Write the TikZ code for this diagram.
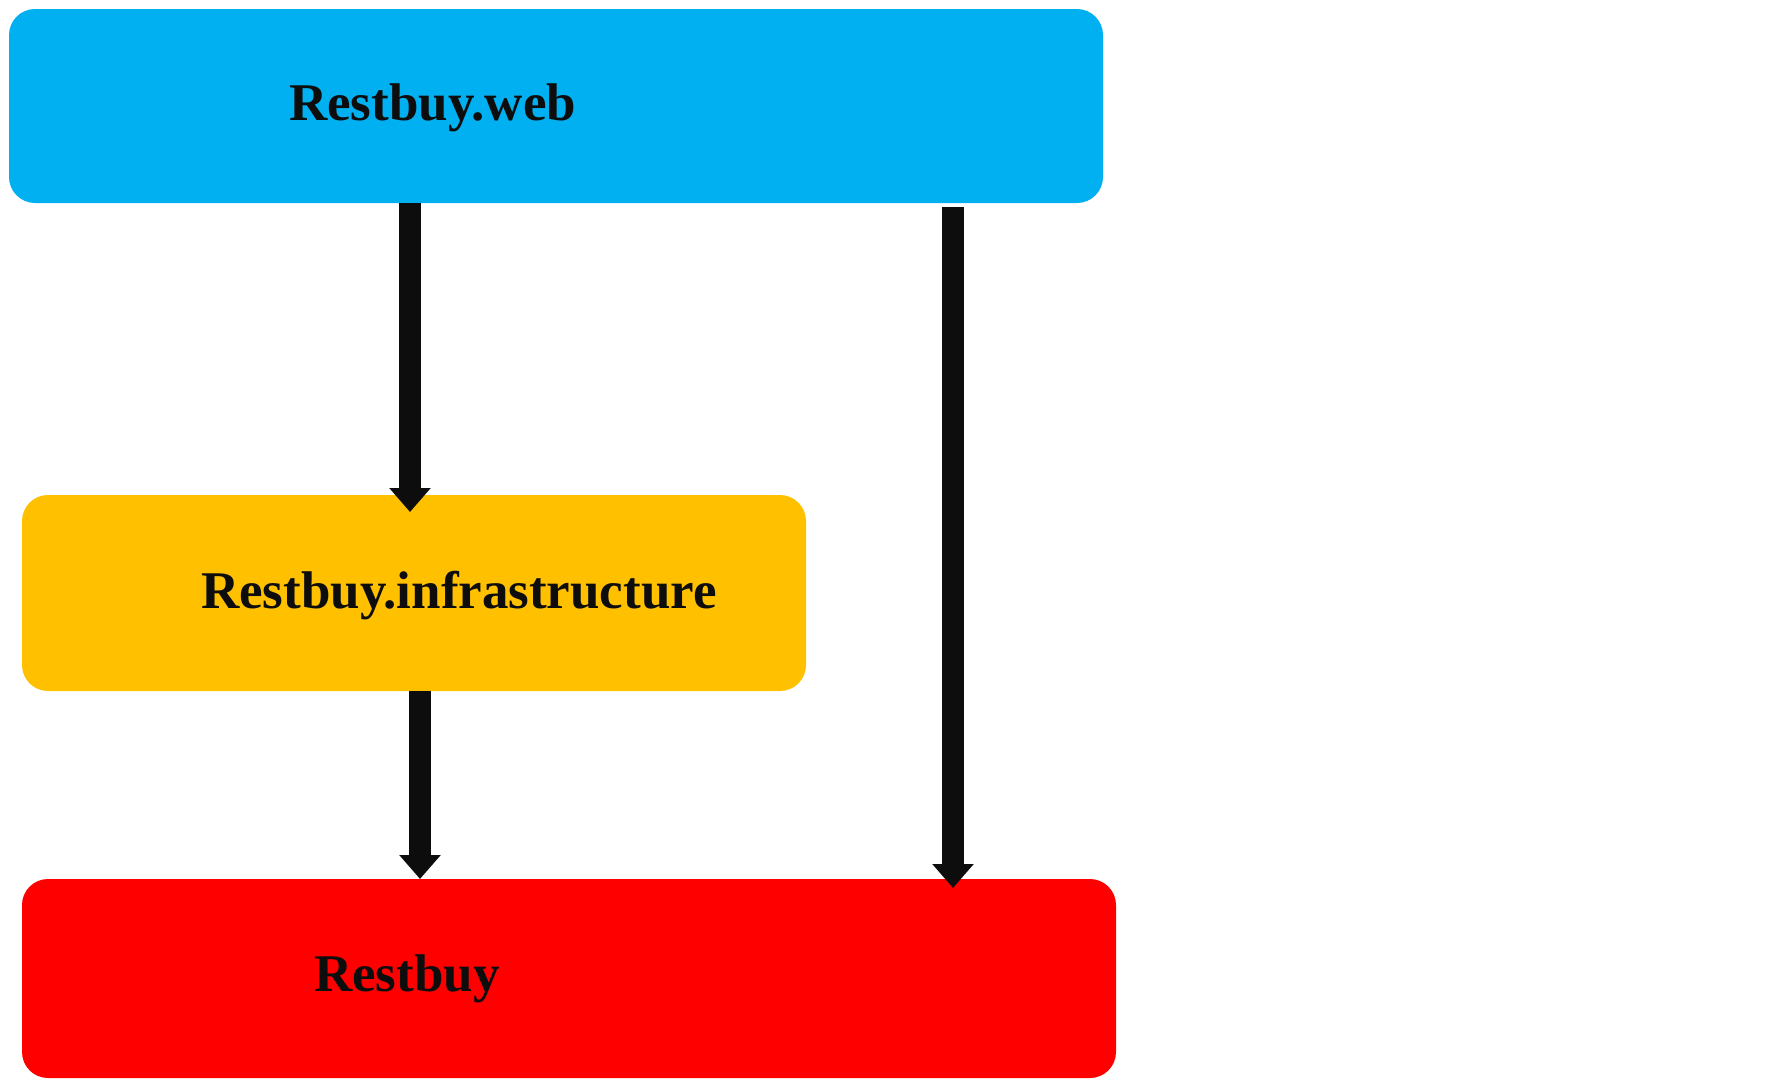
\documentclass[tikz,border=0pt]{standalone}
\usepackage{fontspec}
\setmainfont{Liberation Serif}
\usetikzlibrary{arrows.meta,calc}
\definecolor{webblue}{HTML}{00B0F0}
\definecolor{infrayellow}{HTML}{FFC000}
\definecolor{corered}{HTML}{FF0000}
\definecolor{arrowblack}{HTML}{0D0D0D}
\tikzset{
  layerbox/.style={rectangle, rounded corners=26pt, draw=none, inner sep=0pt, outer sep=0pt},
  layertext/.style={anchor=base west, inner sep=0pt, outer sep=0pt, text=arrowblack,
    font=\fontsize{53}{60}\selectfont\bfseries},
  deparrow/.style={draw=arrowblack, line width=22pt,
    -{Triangle[width=40pt,length=24pt]}}
}
\begin{document}
\begin{tikzpicture}[x=1pt,y=-1pt]
\useasboundingbox (0,0) rectangle (1779,1082);
% boxes
\node[layerbox, fill=webblue, minimum width=1094pt, minimum height=194pt] (web) at (556,106) {};
\node[layerbox, fill=infrayellow, minimum width=784pt, minimum height=196pt] (infra) at (414,593) {};
\node[layerbox, fill=corered, minimum width=1094pt, minimum height=199pt] (core) at (569,978.5) {};
% texts
\node[layertext] (webtext) at (289,120) {Restbuy.web};
\node[layertext] (infratext) at (201,608) {Restbuy.infrastructure};
\node[layertext] (coretext) at (314,991) {Restbuy};
% dependency arrows
\coordinate (c1) at (410,0);
\coordinate (c2) at (420,0);
\coordinate (c3) at (953,0);
\draw[deparrow] (web.south -| c1) -- ([yshift=-17pt]infra.north -| c1);
\draw[deparrow] (infra.south -| c2) -- (core.north -| c2);
\draw[deparrow] ([yshift=-4pt]web.south -| c3) -- ([yshift=-9pt]core.north -| c3);
\end{tikzpicture}
\end{document}
